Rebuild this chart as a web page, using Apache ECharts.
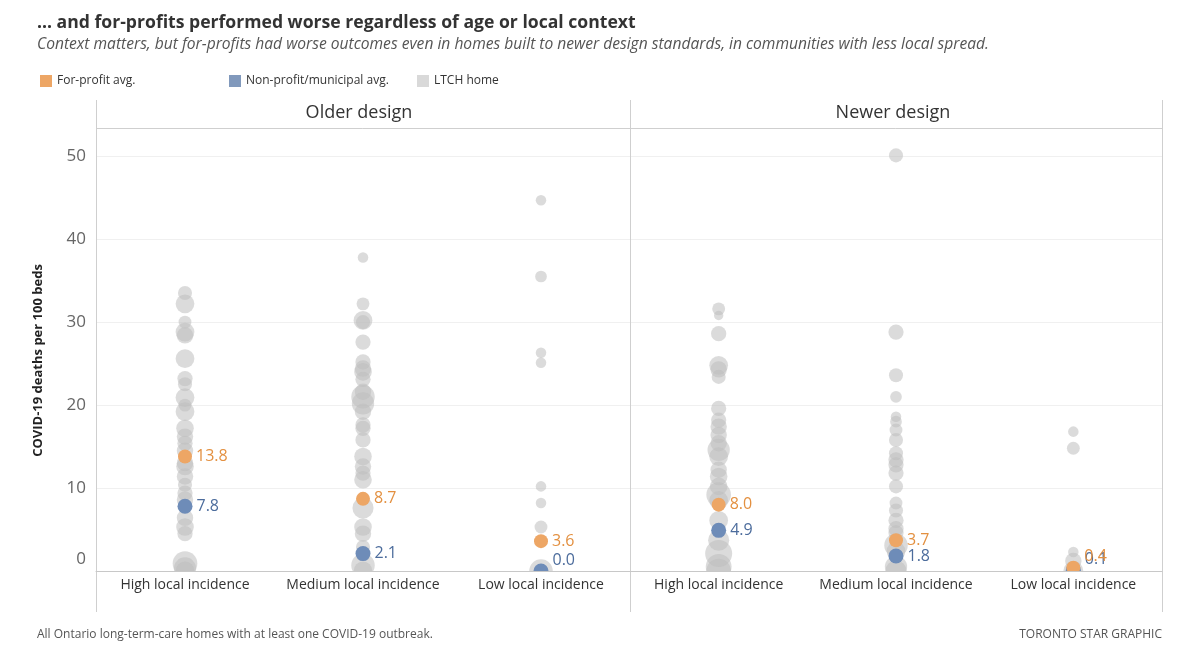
<!DOCTYPE html>
<html>
<head>
<meta charset="utf-8">
<script src="https://cdn.jsdelivr.net/npm/echarts@6/dist/echarts.min.js"></script>
<style>
  html, body { margin: 0; padding: 0; background: #fff; }
  #chart { width: 1200px; height: 665px; }
</style>
</head>
<body>
<div id="chart"></div>
<script>
// ---------- DATA ----------
const categories = ['High local incidence', 'Medium local incidence', 'Low local incidence'];
const panels = ['Older design', 'Newer design'];
const yTicks = [0, 10, 20, 30, 40, 50];

// LTCH homes: [deaths per 100 beds, estimated beds]
const olderHighHomes = [[33.5,120],[32.2,200],[30.0,100],[28.8,200],[28.4,160],[25.6,200],[23.2,140],[22.5,120],[20.9,200],[20.0,100],[19.2,200],[17.2,180],[16.2,160],[15.4,140],[14.5,160],[13.0,160],[12.6,180],[11.4,160],[10.4,120],[9.4,140],[8.6,160],[6.4,160],[5.3,180],[4.5,140],[0.9,300],[0.3,260],[0,200]];
const olderMedHomes = [[37.8,60],[32.2,100],[30.2,200],[30.0,120],[27.6,140],[25.2,140],[24.4,160],[24.0,180],[23.1,140],[21.6,160],[21.0,280],[20.2,260],[19.2,160],[17.6,140],[17.2,140],[15.8,140],[13.8,180],[12.6,160],[11.8,140],[11.0,180],[7.6,240],[5.3,180],[4.5,160],[2.9,120],[0.7,280],[0,200]];
const olderLowHomes = [[44.7,60],[35.5,80],[26.3,60],[25.1,60],[10.2,60],[8.2,60],[5.3,100],[0,280]];
const newerHighHomes = [[31.6,100],[30.8,40],[28.6,140],[24.8,200],[24.3,160],[23.4,120],[19.6,140],[18.2,140],[17.4,160],[16.4,160],[15.4,160],[14.6,260],[13.8,200],[12.2,160],[11.4,180],[10.2,180],[9.2,300],[8.5,200],[6.1,200],[3.7,240],[2.1,340],[0.5,320],[0,300]];
const newerMedHomes = [[50.1,120],[28.8,140],[23.6,120],[21.0,80],[18.6,60],[18.0,80],[17.0,100],[15.8,120],[14.2,120],[13.4,140],[12.8,140],[11.8,140],[10.2,120],[8.2,100],[7.3,120],[6.1,140],[5.1,140],[4.6,140],[3.1,280],[2.4,200],[0.5,260],[0,240]];
const newerLowHomes = [[16.8,60],[14.8,100],[2.3,60],[1.2,160],[0,220]];

const forProfitOlder = [13.8, 8.7, 3.6];
const forProfitNewer = [8.0, 3.7, 0.4];
const nonProfitOlder = [7.8, 2.1, 0.0];
const nonProfitNewer = [4.9, 1.8, 0.1];

// ---------- STYLE ----------
const ORANGE = '#EDA665', ORANGE_TXT = '#E39040';
const BLUE = '#6E8CB8', BLUE_TXT = '#4C6C9C';
const GRAY = '#bdbdbd';
const FONT = 'Open Sans';

function homesData(cols) {
  const out = [];
  cols.forEach((arr, ci) => arr.forEach(([v, beds]) => out.push([ci, v, beds])));
  return out;
}
function avgData(arr) {
  return arr.map((v, ci) => ({
    value: [ci, v],
    label: v < 1 ? { offset: [0, -11] } : undefined
  }));
}

const gridDefs = [
  { left: 96, width: 534, top: 128, height: 443 },
  { left: 630, width: 532, top: 128, height: 443 }
];

const xAxes = gridDefs.map((g, i) => ({
  type: 'category', gridIndex: i, data: categories, z: 20,
  axisLine: { show: true, lineStyle: { color: '#c8c8c8', width: 1 } },
  axisTick: { show: false },
  axisLabel: { color: '#333', fontSize: 14, margin: 7, fontFamily: FONT, interval: 0, hideOverlap: false }
}));
const yAxes = gridDefs.map((g, i) => ({
  type: 'value', gridIndex: i, min: 0, max: 53.4, interval: 10,
  axisLine: { show: false }, axisTick: { show: false },
  splitLine: { show: true, lineStyle: { color: '#f0f0f0', width: 1 } },
  axisLabel: i === 0 ? {
    show: true, color: '#666', fontSize: 17, margin: 10, fontFamily: FONT,
    showMaxLabel: false,
    formatter: v => (yTicks.indexOf(v) < 0 ? '' : (v === 0 ? '{z|0}' : String(v))),
    rich: { z: { color: '#666', fontSize: 17, fontFamily: FONT, padding: [0, 0, 24, 0] } }
  } : { show: false },
  name: i === 0 ? 'COVID-19 deaths per 100 beds' : '',
  nameLocation: 'middle', nameRotate: 90, nameGap: 51,
  nameTextStyle: { fontWeight: 'bold', fontSize: 13, color: '#222', fontFamily: FONT, padding: [0, 0, 0, -22] }
}));

const homeCols = [[olderHighHomes, olderMedHomes, olderLowHomes], [newerHighHomes, newerMedHomes, newerLowHomes]];
const fp = [forProfitOlder, forProfitNewer];
const np = [nonProfitOlder, nonProfitNewer];

const series = [];
[0, 1].forEach(i => {
  series.push({
    name: 'LTCH home', type: 'scatter', xAxisIndex: i, yAxisIndex: i,
    data: homesData(homeCols[i]),
    symbolSize: d => 7 + d[2] / 17,
    itemStyle: { color: GRAY, opacity: 0.55 },
    emphasis: { disabled: true }, z: 2
  });
  series.push({
    name: 'Non-profit/municipal avg.', type: 'scatter', xAxisIndex: i, yAxisIndex: i,
    data: avgData(np[i]), symbolSize: 15,
    itemStyle: { color: BLUE, opacity: 1 },
    label: { show: true, position: 'right', distance: 4, color: BLUE_TXT, fontSize: 16, fontFamily: FONT,
      formatter: p => p.value[1].toFixed(1) },
    emphasis: { disabled: true }, z: 3
  });
  series.push({
    name: 'For-profit avg.', type: 'scatter', xAxisIndex: i, yAxisIndex: i,
    data: avgData(fp[i]), symbolSize: 14,
    itemStyle: { color: ORANGE, opacity: 1 },
    label: { show: true, position: 'right', distance: 4, color: ORANGE_TXT, fontSize: 16, fontFamily: FONT,
      formatter: p => p.value[1].toFixed(1) },
    emphasis: { disabled: true }, z: 4
  });
});

const legendBase = { top: 70, itemWidth: 12, itemHeight: 12, icon: 'rect', itemGap: 6,
  textStyle: { color: '#333', fontSize: 12, fontFamily: FONT }, selectedMode: false };

const lineStyle = { stroke: '#cfcfcf', lineWidth: 1 };

const option = {
  animation: false,
  textStyle: { fontFamily: FONT },
  title: {
    left: 32, top: 9, itemGap: 5,
    text: '... and for-profits performed worse regardless of age or local context',
    textStyle: { fontSize: 17.6, fontWeight: 'bold', color: '#333', fontFamily: FONT },
    subtext: 'Context matters, but for-profits had worse outcomes even in homes built to newer design standards, in communities with less local spread.',
    subtextStyle: { fontSize: 15.6, fontStyle: 'italic', color: '#555', fontFamily: FONT }
  },
  legend: [
    Object.assign({ left: 35, data: [{ name: 'For-profit avg.', itemStyle: { color: ORANGE, opacity: 1 } }] }, legendBase),
    Object.assign({ left: 224, data: [{ name: 'Non-profit/municipal avg.', itemStyle: { color: '#8199BC', opacity: 1 } }] }, legendBase),
    Object.assign({ left: 412, data: [{ name: 'LTCH home', itemStyle: { color: '#d9d9d9', opacity: 1 } }] }, legendBase)
  ],
  grid: gridDefs.map(g => Object.assign({ containLabel: false }, g)),
  xAxis: xAxes,
  yAxis: yAxes,
  series: series,
  graphic: [
    // mask below the x-axis so marks at 0 are cut in half, as in the pane
    { type: 'rect', shape: { x: 97, y: 571, width: 1065, height: 45 }, style: { fill: '#fff' }, z: 8, silent: true },
    { type: 'line', shape: { x1: 96.5, y1: 100, x2: 96.5, y2: 612 }, style: lineStyle, z: 10 },
    { type: 'line', shape: { x1: 630.5, y1: 100, x2: 630.5, y2: 612 }, style: lineStyle, z: 10 },
    { type: 'line', shape: { x1: 1162.5, y1: 100, x2: 1162.5, y2: 612 }, style: lineStyle, z: 10 },
    { type: 'line', shape: { x1: 96, y1: 128.5, x2: 1162, y2: 128.5 }, style: lineStyle, z: 10 },
    { type: 'text', x: 359, y: 113, style: { text: panels[0], fontSize: 18, fill: '#333', fontFamily: FONT, textAlign: 'center', textVerticalAlign: 'middle' } },
    { type: 'text', x: 893, y: 113, style: { text: panels[1], fontSize: 18, fill: '#333', fontFamily: FONT, textAlign: 'center', textVerticalAlign: 'middle' } },
    { type: 'text', x: 37, y: 635, style: { text: 'All Ontario long-term-care homes with at least one COVID-19 outbreak.', fontSize: 12, fill: '#555', fontFamily: FONT, textVerticalAlign: 'middle' } },
    { type: 'text', x: 1162, y: 635, style: { text: 'TORONTO STAR GRAPHIC', fontSize: 12, fill: '#555', fontFamily: FONT, textAlign: 'right', textVerticalAlign: 'middle' } }
  ]
};

const chart = echarts.init(document.getElementById('chart'), null, { renderer: 'canvas' });
chart.setOption(option);
</script>
</body>
</html>
